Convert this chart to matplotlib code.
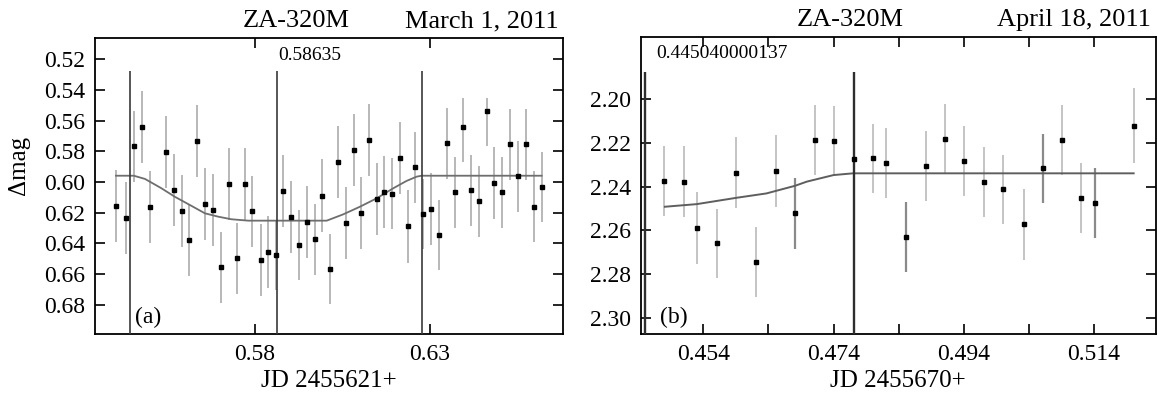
import matplotlib
matplotlib.use("Agg")
import matplotlib.pyplot as plt

plt.rcParams['font.family'] = ['Liberation Serif', 'DejaVu Serif']

# ---- panel (a): March 1, 2011 ----
a_jd = [0.5403, 0.5431, 0.5454, 0.5476, 0.5499, 0.5545, 0.5568, 0.5591, 0.5611, 0.5634,
        0.5657, 0.5679, 0.5703, 0.5726, 0.5748, 0.5771, 0.5792, 0.5816, 0.5838, 0.5859,
        0.5881, 0.5904, 0.5927, 0.5948, 0.5971, 0.5992, 0.6015, 0.6037, 0.6060, 0.6082,
        0.6104, 0.6125, 0.6148, 0.6169, 0.6192, 0.6213, 0.6236, 0.6258, 0.6281, 0.6304,
        0.6327, 0.6349, 0.6371, 0.6393, 0.6417, 0.6440, 0.6462, 0.6484, 0.6507, 0.6529,
        0.6551, 0.6574, 0.6597, 0.6620]
a_mag = [0.6155, 0.6237, 0.5767, 0.5639, 0.6161, 0.5806, 0.6052, 0.6187, 0.6380, 0.5735,
         0.6145, 0.6185, 0.6556, 0.6013, 0.6497, 0.6013, 0.6191, 0.6511, 0.6458, 0.6476,
         0.6059, 0.6230, 0.6411, 0.6261, 0.6374, 0.6089, 0.6567, 0.5870, 0.6269, 0.5791,
         0.6200, 0.5728, 0.6109, 0.6065, 0.6076, 0.5845, 0.6289, 0.5904, 0.6207, 0.6178,
         0.6348, 0.5748, 0.6067, 0.5639, 0.6054, 0.6126, 0.5535, 0.6007, 0.6067, 0.5754,
         0.5963, 0.5754, 0.6161, 0.6033]
a_err_minus = [0.0236, 0.0234, 0.0231, 0.0234, 0.0235, 0.0234, 0.0235, 0.0234, 0.0234, 0.0234,
               0.0236, 0.0234, 0.0231, 0.0234, 0.0232, 0.0234, 0.0231, 0.0234, 0.0234, 0.0230,
               0.0236, 0.0236, 0.0231, 0.0232, 0.0231, 0.0236, 0.0231, 0.0234, 0.0235, 0.0234,
               0.0234, 0.0234, 0.0234, 0.0234, 0.0232, 0.0234, 0.0236, 0.0232, 0.0228, 0.0234,
               0.0228, 0.0231, 0.0231, 0.0185, 0.0231, 0.0231, 0.0081, 0.0232, 0.0231, 0.0230,
               0.0232, 0.0230, 0.0233, 0.0230]
a_err_plus = [0.0236, 0.0234, 0.0231, 0.0234, 0.0235, 0.0234, 0.0235, 0.0234, 0.0234, 0.0234,
              0.0236, 0.0234, 0.0231, 0.0234, 0.0232, 0.0234, 0.0231, 0.0234, 0.0234, 0.0230,
              0.0236, 0.0236, 0.0231, 0.0232, 0.0231, 0.0236, 0.0231, 0.0234, 0.0235, 0.0234,
              0.0234, 0.0234, 0.0234, 0.0234, 0.0232, 0.0234, 0.0236, 0.0232, 0.0228, 0.0234,
              0.0228, 0.0231, 0.0231, 0.0229, 0.0231, 0.0231, 0.0230, 0.0232, 0.0231, 0.0230,
              0.0232, 0.0230, 0.0233, 0.0230]
a_model_jd = [0.5403, 0.5454, 0.5486, 0.5533, 0.5571, 0.5619, 0.5657, 0.5695, 0.5733, 0.5781,
              0.6005, 0.6052, 0.6100, 0.6148, 0.6195, 0.6233, 0.6262, 0.6276, 0.6619]
a_model_mag = [0.5959, 0.5959, 0.5980, 0.6041, 0.6096, 0.6156, 0.6204, 0.6226, 0.6243, 0.6252,
               0.6252, 0.6211, 0.6161, 0.6106, 0.6041, 0.5993, 0.5965, 0.5959, 0.5959]
a_lines = [0.5443, 0.58635, 0.6277]
a_line_top = 0.5276
a_xticks = [0.58, 0.63]
a_yticks = [0.52, 0.54, 0.56, 0.58, 0.60, 0.62, 0.64, 0.66, 0.68]

# ---- panel (b): April 18, 2011 ----
b_jd = [0.4480, 0.4510, 0.4530, 0.4561, 0.4591, 0.4621, 0.4652, 0.4681, 0.4712, 0.4741,
        0.4772, 0.4801, 0.4821, 0.4851, 0.4882, 0.4911, 0.4941, 0.4971, 0.5001, 0.5032,
        0.5061, 0.5091, 0.5120, 0.5142, 0.5202]
b_mag = [2.2373, 2.2377, 2.2588, 2.2660, 2.2336, 2.2745, 2.2328, 2.2522, 2.2186, 2.2190,
         2.2273, 2.2270, 2.2290, 2.2629, 2.2305, 2.2182, 2.2283, 2.2377, 2.2412, 2.2573,
         2.2316, 2.2186, 2.2453, 2.2474, 2.2121]
b_err = [0.0161, 0.0162, 0.0164, 0.0157, 0.0162, 0.0159, 0.0163, 0.0163, 0.0160, 0.0158,
         0.0160, 0.0159, 0.0160, 0.0160, 0.0159, 0.0159, 0.0161, 0.0160, 0.0158, 0.0162,
         0.0159, 0.0160, 0.0159, 0.0160, 0.0171]
b_dark = [7, 13, 20, 23]
b_model_jd = [0.4481, 0.4530, 0.4591, 0.4637, 0.4681, 0.4699, 0.4740, 0.4770, 0.5201]
b_model_mag = [2.2492, 2.2480, 2.2451, 2.2431, 2.2396, 2.2377, 2.2347, 2.2339, 2.2339]
b_lines = [0.44504, 0.47715]
b_line_top = 2.1874
b_xticks = [0.454, 0.464, 0.474, 0.484, 0.494, 0.504, 0.514]
b_xlabels = ['0.454', '', '0.474', '', '0.494', '', '0.514']
b_yticks = [2.20, 2.22, 2.24, 2.26, 2.28, 2.30]


def style_axes(ax):
    for s in ax.spines.values():
        s.set_linewidth(1.3)
    ax.tick_params(direction='in', length=7, width=1.2, top=True, right=True,
                   labelsize=17, pad=7)


fig = plt.figure(figsize=(11.58, 3.97), dpi=100)

# panel (a)
ax = fig.add_axes([0.0820, 0.1587, 0.4042, 0.7456])
ax.errorbar(a_jd, a_mag, yerr=[a_err_minus, a_err_plus], fmt='none',
            ecolor='#b8b8b8', elinewidth=1.4, capsize=0, zorder=1)
ax.plot(a_model_jd, a_model_mag, color='#6e6e6e', lw=1.3, zorder=2)
ax.vlines(a_lines, a_line_top, 0.75, color='#3a3a3a', lw=1.2, zorder=3)
ax.plot(a_jd, a_mag, 's', color='black', ms=3.4, zorder=4)
ax.set_xlim(0.5343, 0.6680)
ax.set_ylim(0.6991, 0.5061)
ax.set_xticks(a_xticks)
ax.set_xticklabels(['0.58', '0.63'])
ax.set_yticks(a_yticks)
ax.set_yticklabels(['%.2f' % v for v in a_yticks])
style_axes(ax)
ax.set_xlabel('JD 2455621+', fontsize=18, labelpad=4)
ax.set_ylabel('Δmag', fontsize=18)
ax.yaxis.set_label_coords(-0.138, 0.57)
ax.text(0.391, 0.926, '0.58635', transform=ax.transAxes, fontsize=14, va='baseline')
ax.text(0.0855, 0.036, '(a)', transform=ax.transAxes, fontsize=17, va='baseline')
ax.text(0.4295, 1.037, 'ZA-320M', transform=ax.transAxes, fontsize=19,
        ha='center', va='baseline')
ax.text(0.99, 1.037, 'March 1, 2011', transform=ax.transAxes, fontsize=19,
        ha='right', va='baseline')

# panel (b)
bx = fig.add_axes([0.5533, 0.1587, 0.4447, 0.7489])
light = [i for i in range(len(b_jd)) if i not in b_dark]
bx.errorbar([b_jd[i] for i in light], [b_mag[i] for i in light],
            yerr=[b_err[i] for i in light], fmt='none',
            ecolor='#c4c4c4', elinewidth=1.4, capsize=0, zorder=1)
bx.errorbar([b_jd[i] for i in b_dark], [b_mag[i] for i in b_dark],
            yerr=[b_err[i] for i in b_dark], fmt='none',
            ecolor='#8a8a8a', elinewidth=1.6, capsize=0, zorder=1)
bx.plot(b_model_jd, b_model_mag, color='#5e5e5e', lw=1.4, zorder=2)
bx.vlines(b_lines, b_line_top, 2.40, color='#2e2e2e', lw=1.7, zorder=3)
bx.plot(b_jd, b_mag, 's', color='black', ms=3.4, zorder=4)
bx.set_xlim(0.44439, 0.52348)
bx.set_ylim(2.30746, 2.17134)
bx.set_xticks(b_xticks)
bx.set_xticklabels(b_xlabels)
bx.set_yticks(b_yticks)
bx.set_yticklabels(['%.2f' % v for v in b_yticks])
style_axes(bx)
bx.set_xlabel('JD 2455670+', fontsize=18, labelpad=4)
bx.text(0.0297, 0.927, '0.445040000137', transform=bx.transAxes, fontsize=14,
        va='baseline')
bx.text(0.0375, 0.036, '(b)', transform=bx.transAxes, fontsize=17, va='baseline')
bx.text(0.4058, 1.037, 'ZA-320M', transform=bx.transAxes, fontsize=19,
        ha='center', va='baseline')
bx.text(0.99, 1.037, 'April 18, 2011', transform=bx.transAxes, fontsize=19,
        ha='right', va='baseline')

fig.savefig('out.png', dpi=100)
